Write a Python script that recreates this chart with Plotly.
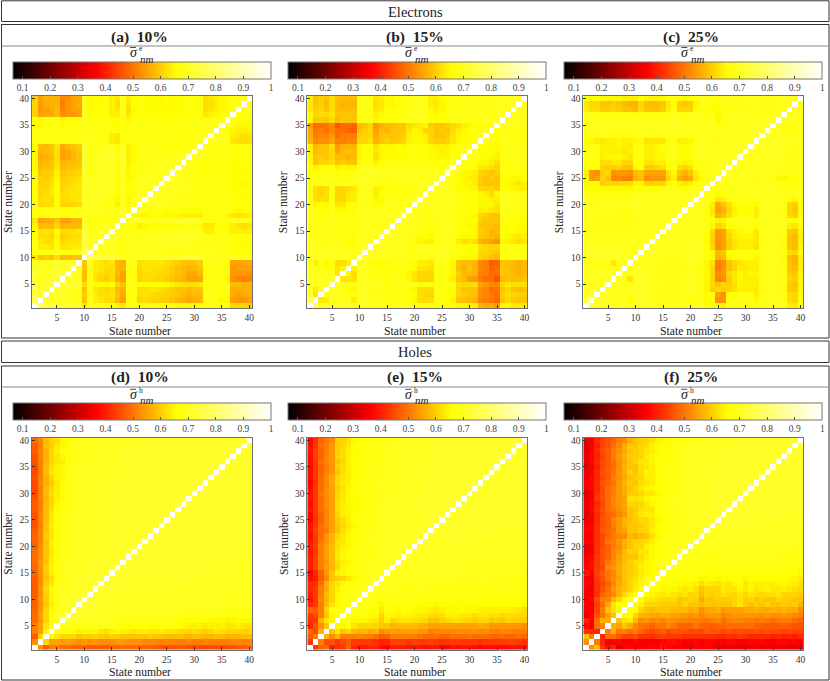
import plotly.graph_objects as go

W, H = 830, 681
FONT = "Liberation Serif"

# lower triangle of each (symmetric) overlap matrix, in percent
# one row per state m = 2..40, holding n = 1..m-1, diagonal is 100
electrons_10 = [
    [78],
    [76,71],
    [75,70,72],
    [75,71,72,73],
    [74,70,71,72,75],
    [74,71,70,71,73, 72],
    [73,70,71,70,73, 71,72],
    [71,69,70,70,74, 71,71,72],
    [64,60,61,60,63, 59,59,60,60],
    [70,69,69,69,70, 69,69,69,70,78],
    [69,65,65,64,67, 64,64,65,65,76, 70],
    [69,64,63,63,67, 62,63,64,64,75, 70,71],
    [68,63,63,62,66, 61,62,63,63,75, 70,70,71],
    [68,63,64,63,67, 63,63,63,64,75, 70,70,71,71],
    [66,59,60,59,62, 58,59,59,59,73, 69,69,70,70,70],
    [64,56,57,58,60, 56,56,58,58,72, 68,68,69,69,69, 68],
    [69,68,69,69,69, 68,68,69,69,70, 70,70,70,70,69, 68,70],
    [68,68,68,69,69, 68,68,68,69,70, 70,70,70,70,69, 68,71,67],
    [67,62,63,63,67, 62,62,62,63,71, 70,70,70,69,68, 65,71,66,69],
    [68,63,64,63,67, 63,63,64,64,72, 70,70,70,70,69, 66,71,66,69,70],
    [68,62,63,64,67, 63,63,64,64,72, 70,70,71,70,70, 67,71,67,68,70, 71],
    [67,62,62,64,67, 62,63,63,64,72, 70,70,71,70,70, 68,71,67,69,70, 70,71],
    [67,61,62,63,67, 62,62,63,64,72, 70,70,71,71,70, 68,71,67,69,70, 70,70,71],
    [67,61,61,62,66, 61,62,62,63,72, 70,70,71,71,71, 68,71,66,68,70, 70,70,70,71],
    [67,60,61,61,65, 60,61,61,62,72, 69,70,71,71,71, 68,72,66,68,69, 70,70,70,70,71],
    [66,59,60,60,64, 59,60,60,61,73, 69,70,71,72,71, 68,72,66,68,69, 69,70,70,70,70, 71],
    [66,58,59,60,63, 58,59,59,60,74, 69,70,71,72,71, 69,72,65,67,69, 69,69,70,70,70, 70,71],
    [66,57,58,59,63, 56,57,58,60,74, 69,70,71,72,71, 69,73,65,67,69, 69,69,70,70,69, 69,70,70],
    [66,58,59,60,63, 56,57,59,60,74, 69,69,70,71,71, 69,72,65,67,68, 69,69,69,69,69, 69,69,69,70],
    [67,59,59,60,64, 57,59,60,61,73, 69,69,70,70,70, 67,71,65,67,68, 69,69,69,68,68, 68,68,68,69,70],
    [69,69,69,69,69, 68,68,68,69,70, 70,70,69,69,65, 64,68,69,69,69, 69,69,69,69,69, 68,68,68,69,69, 69],
    [69,69,69,69,69, 68,69,69,69,70, 70,70,69,69,65, 64,68,69,69,69, 69,69,69,69,68, 68,68,68,68,69, 69,70],
    [69,69,69,69,69, 69,69,68,69,70, 69,69,69,69,68, 67,69,69,69,69, 69,69,69,69,69, 69,69,68,68,69, 69,69,70],
    [68,66,68,68,69, 67,68,69,69,70, 69,69,69,69,68, 67,69,68,69,69, 69,69,69,69,69, 68,68,69,69,69, 69,69,70,70],
    [69,67,68,69,69, 66,68,68,68,70, 69,69,69,69,67, 67,69,66,68,69, 69,69,69,68,68, 68,68,68,69,69, 69,69,69,69,70],
    [62,56,57,57,59, 54,55,55,56,71, 67,67,68,68,65, 65,70,64,67,68, 68,67,67,67,67, 67,67,67,67,68, 68,64,65,66,67, 68],
    [62,55,56,57,59, 53,55,56,56,71, 67,67,68,68,65, 64,70,63,66,68, 68,67,67,67,67, 67,67,67,68,68, 68,63,64,65,66, 67,69],
    [62,55,57,58,58, 52,55,56,57,71, 67,67,67,68,65, 63,70,64,67,68, 67,67,67,66,67, 67,67,68,68,68, 68,63,63,65,66, 67,68,69],
    [61,56,58,58,58, 53,54,56,57,70, 67,67,67,68,65, 64,70,65,67,68, 68,67,67,66,67, 67,67,67,68,68, 68,63,64,65,66, 67,69,69,70],
]

electrons_15 = [
    [78],
    [72,64],
    [72,65,70],
    [73,70,71,71],
    [72,70,70,70,71],
    [72,69,70,69,70, 64],
    [71,70,69,67,68, 64,66],
    [71,65,69,66,69, 63,63,65],
    [72,71,71,71,71, 71,71,71,70],
    [71,71,71,71,71, 70,70,70,70,71],
    [70,70,70,69,70, 70,69,69,69,71, 70],
    [70,70,69,70,70, 70,69,67,67,71, 70,70],
    [70,70,69,69,70, 69,69,68,68,71, 70,70,70],
    [70,69,69,69,69, 68,68,68,68,71, 70,70,70,70],
    [70,69,69,69,69, 69,69,69,69,70, 70,70,69,69,70],
    [70,69,69,69,70, 69,69,69,69,70, 70,70,70,70,70, 70],
    [70,69,69,69,70, 68,69,69,69,70, 70,70,70,70,70, 70,70],
    [71,69,68,67,70, 66,66,68,68,71, 70,70,69,70,70, 70,70,70],
    [70,66,67,66,69, 64,64,67,68,70, 69,69,67,68,70, 70,70,70,69],
    [69,63,63,63,68, 62,62,64,65,70, 70,70,66,67,69, 69,69,69,70,70],
    [69,63,62,63,68, 62,62,64,65,70, 70,70,65,67,69, 69,69,69,69,70, 70],
    [69,63,62,63,68, 62,62,63,64,69, 70,70,65,66,68, 68,68,69,69,69, 70,70],
    [68,69,69,69,70, 68,69,69,69,70, 70,70,69,69,69, 69,70,70,70,70, 70,70,70],
    [68,69,69,69,69, 69,69,69,70,71, 71,70,70,70,70, 70,70,70,70,70, 70,70,70,71],
    [68,67,68,68,68, 67,68,68,69,70, 71,71,70,70,70, 70,70,70,70,70, 70,70,70,70,71],
    [67,66,67,67,68, 65,66,66,66,69, 70,70,69,69,70, 70,70,70,70,70, 70,70,69,69,69, 70],
    [66,60,62,62,63, 60,61,60,60,67, 68,68,65,67,68, 68,68,68,68,69, 69,69,67,67,67, 68,70],
    [66,60,61,60,62, 59,59,58,59,66, 68,67,63,66,67, 67,68,67,68,68, 68,68,67,66,66, 66,68,69],
    [65,59,60,60,62, 56,59,60,59,66, 67,67,64,66,67, 66,67,67,68,68, 68,68,66,66,65, 66,67,68,69],
    [65,58,60,60,63, 55,58,58,58,66, 67,67,63,66,66, 66,67,66,68,68, 68,67,66,65,65, 65,67,68,68,69],
    [58,53,54,54,56, 52,52,53,53,62, 62,63,58,60,61, 60,61,62,65,66, 66,66,62,61,61, 62,64,66,67,67, 68],
    [57,52,53,53,55, 50,52,52,52,61, 62,62,57,60,60, 60,60,61,65,66, 66,65,62,60,60, 61,64,66,67,67, 68,69],
    [57,51,52,50,53, 50,50,49,48,60, 61,62,56,59,58, 60,60,60,64,66, 65,62,62,60,61, 60,63,65,66,67, 68,68,69],
    [55,50,50,51,53, 47,50,50,49,59, 60,62,55,58,59, 59,60,60,63,64, 65,66,61,60,60, 61,62,63,65,66, 67,67,67,68],
    [66,60,61,60,62, 59,60,60,60,69, 69,69,66,67,68, 68,69,69,70,70, 70,70,68,68,67, 68,69,69,69,69, 69,70,70,69,70],
    [66,62,63,62,64, 60,60,60,60,69, 69,69,65,66,67, 68,68,69,70,70, 70,70,67,66,67, 68,69,69,69,69, 69,70,70,69,70, 70],
    [64,61,62,60,63, 59,59,59,59,69, 69,69,64,65,67, 67,68,69,69,70, 70,69,66,65,66, 68,69,69,69,69, 69,69,69,69,70, 70,70],
    [64,60,61,59,63, 59,58,58,58,69, 69,69,63,64,66, 66,67,68,69,69, 70,69,65,64,66, 67,69,69,69,69, 69,69,69,69,70, 70,70,70],
    [65,60,61,60,63, 60,59,59,59,69, 69,69,64,65,66, 66,68,68,69,70, 70,69,65,65,67, 68,69,69,69,70, 69,69,69,69,70, 70,70,70,70],
]

electrons_25 = [
    [76],
    [72,71],
    [71,71,71],
    [71,70,70,71],
    [71,71,70,71,70],
    [71,71,70,70,70, 70],
    [71,70,70,70,69, 70,70],
    [71,67,70,70,70, 64,69,68],
    [72,72,72,72,72, 71,71,71,70],
    [72,72,72,72,72, 71,71,71,70,71],
    [71,71,70,71,71, 71,70,70,70,70, 71],
    [71,70,70,70,70, 70,70,70,70,70, 71,71],
    [70,70,70,70,70, 70,70,70,70,70, 70,70,71],
    [70,69,69,69,70, 69,69,69,70,70, 70,70,70,70],
    [70,70,69,69,70, 69,69,69,69,70, 70,70,70,70,71],
    [70,70,69,69,70, 69,69,69,69,69, 70,70,70,70,70, 71],
    [70,69,70,69,70, 69,69,69,69,70, 70,70,70,70,70, 70,71],
    [70,70,70,70,70, 70,70,69,70,70, 71,70,70,70,70, 70,70,71],
    [71,68,70,71,71, 70,70,70,71,71, 71,70,70,70,70, 70,70,70,71],
    [71,69,70,70,71, 70,70,70,71,72, 72,71,71,71,70, 70,70,70,70,71],
    [70,70,69,69,69, 68,69,69,69,70, 70,70,70,70,70, 70,70,70,70,70, 71],
    [67,67,67,66,66, 66,66,66,66,68, 68,68,67,67,68, 69,69,68,68,69, 70,70],
    [66,68,67,61,62, 62,62,62,63,66, 66,62,61,62,62, 66,68,65,64,65, 68,69,70],
    [66,55,56,62,60, 53,54,52,52,58, 59,54,55,55,55, 62,65,58,56,57, 64,67,68,69],
    [65,55,54,61,62, 54,55,55,54,59, 60,56,56,56,56, 63,66,60,58,60, 65,68,69,69,71],
    [68,68,67,62,61, 61,62,60,60,66, 67,61,61,62,63, 67,69,63,62,63, 68,69,69,70,70, 71],
    [68,69,67,63,63, 64,64,62,62,68, 68,64,64,65,65, 68,69,66,65,66, 69,70,70,70,70, 70,71],
    [70,70,69,65,66, 66,66,65,64,68, 69,65,65,66,66, 69,70,68,67,68, 70,70,70,70,70, 70,70,71],
    [69,69,68,65,65, 65,65,64,65,68, 68,65,65,66,67, 69,70,68,67,68, 70,70,70,70,70, 70,70,70,71],
    [69,69,68,65,65, 65,66,65,65,68, 68,65,65,66,67, 69,70,67,67,67, 70,70,70,70,70, 70,70,70,70,71],
    [68,66,65,64,65, 65,66,65,65,66, 67,63,64,64,64, 67,69,65,65,66, 70,70,70,70,69, 70,70,70,70,70, 71],
    [69,69,69,69,70, 68,69,69,69,70, 70,69,69,70,70, 70,70,70,70,70, 70,70,70,70,70, 70,70,70,70,71, 70,71],
    [70,70,70,70,70, 70,70,70,70,70, 70,70,70,70,70, 70,70,70,70,70, 70,70,70,70,70, 70,70,70,70,71, 71,71,71],
    [70,70,70,70,70, 70,70,70,70,70, 70,70,70,70,70, 70,71,70,70,70, 70,70,70,70,68, 70,70,70,70,71, 71,71,71,71],
    [70,70,70,70,70, 70,70,70,70,70, 70,70,70,70,70, 70,71,70,70,70, 70,70,70,70,66, 70,70,70,70,71, 71,71,71,71,71],
    [70,70,70,68,69, 69,69,69,68,67, 69,68,68,68,69, 70,70,68,69,70, 70,70,69,69,66, 69,70,70,70,70, 70,70,69,69,69, 71],
    [65,63,63,61,61, 62,61,60,60,59, 63,60,60,60,61, 65,68,62,62,62, 67,69,69,68,67, 69,69,69,69,69, 70,70,69,69,69, 70,70],
    [64,62,62,60,60, 61,60,59,58,58, 62,59,59,59,60, 64,67,61,60,61, 66,69,69,67,67, 69,69,69,69,69, 70,70,69,69,69, 70,70,69],
    [68,67,67,66,66, 66,66,65,65,65, 67,66,65,65,66, 68,69,67,66,67, 69,70,70,69,69, 70,70,70,70,70, 70,70,70,70,70, 70,70,69,69],
]

holes_10 = [
    [54],
    [48,62],
    [52,56,66],
    [52,56,64,68],
    [50,55,62,68,70],
    [50,56,62,67,70, 71],
    [49,55,62,66,69, 71,72],
    [49,54,60,65,69, 71,72,73],
    [49,55,61,66,69, 71,72,72,73],
    [48,54,61,66,70, 71,71,72,72,73],
    [48,55,62,66,69, 71,71,71,72,72, 73],
    [48,54,61,64,69, 70,71,71,72,72, 72,73],
    [48,54,60,63,69, 70,70,71,71,72, 72,72,73],
    [49,54,61,65,69, 70,71,71,71,71, 72,72,72,73],
    [49,55,61,66,69, 70,70,71,71,71, 72,72,72,72,73],
    [50,55,60,65,68, 69,70,70,71,71, 71,72,72,72,72, 73],
    [50,54,60,65,67, 69,70,71,71,71, 71,71,72,72,72, 72,73],
    [50,54,60,64,67, 69,70,70,71,71, 71,71,72,72,72, 72,72,73],
    [49,54,60,65,68, 70,70,71,71,71, 71,71,71,72,72, 72,72,72,73],
    [49,53,60,65,68, 70,70,71,71,71, 71,72,72,71,72, 72,72,72,72,73],
    [49,53,61,64,67, 69,70,70,71,71, 71,71,71,72,72, 72,72,72,72,72, 73],
    [48,53,60,64,67, 69,70,71,71,71, 71,71,72,72,72, 72,72,72,72,72, 72,73],
    [47,52,60,65,68, 69,70,70,71,71, 71,71,71,72,72, 72,72,72,72,72, 72,72,73],
    [47,53,59,64,68, 69,70,71,71,71, 72,71,71,72,72, 72,72,72,72,72, 72,72,72,73],
    [47,53,59,64,68, 69,70,70,71,71, 71,72,72,72,72, 72,72,72,72,72, 72,72,72,72,73],
    [48,52,59,63,67, 68,70,70,71,71, 71,71,72,72,72, 72,72,72,72,72, 72,72,72,72,72, 73],
    [48,52,59,62,66, 68,69,70,70,71, 71,71,71,72,72, 72,72,72,72,72, 72,72,72,72,72, 72,73],
    [47,53,58,62,65, 67,69,70,70,71, 71,71,72,72,71, 72,72,72,72,72, 72,72,72,72,72, 72,72,73],
    [46,52,59,63,65, 67,69,70,71,71, 71,71,71,72,72, 72,72,72,72,72, 72,72,72,72,72, 72,72,72,73],
    [46,52,59,62,65, 67,69,70,70,71, 71,71,71,71,72, 72,72,72,72,72, 72,72,72,72,72, 72,72,72,72,73],
    [46,53,58,61,64, 67,69,70,70,71, 71,71,71,71,72, 71,72,72,72,72, 72,72,72,72,72, 72,72,72,72,72, 73],
    [47,52,58,62,65, 66,69,70,70,71, 71,71,71,72,72, 72,72,72,72,72, 72,72,72,72,72, 72,72,72,72,72, 72,73],
    [46,52,59,64,65, 66,69,70,70,70, 71,71,71,71,72, 71,72,72,72,72, 72,72,72,72,72, 72,72,72,72,72, 72,72,73],
    [46,52,59,63,65, 66,68,70,70,71, 71,71,71,71,71, 72,72,72,72,72, 72,72,72,72,72, 72,72,72,72,72, 72,72,72,73],
    [47,52,58,62,64, 65,68,69,70,70, 71,71,71,71,71, 71,72,72,72,72, 72,72,72,72,72, 72,72,72,72,72, 72,72,72,72,73],
    [47,53,58,62,64, 66,68,69,70,70, 70,71,71,71,71, 71,72,72,72,72, 72,72,72,72,72, 72,72,72,72,72, 72,72,72,72,72, 73],
    [48,53,58,62,65, 67,68,69,70,70, 71,71,71,71,71, 71,71,72,72,72, 72,72,72,72,72, 72,72,72,72,72, 72,72,72,72,72, 72,73],
    [48,52,59,61,64, 66,67,69,70,70, 71,71,71,71,71, 71,71,71,72,72, 72,72,72,72,72, 72,72,72,72,72, 72,72,72,72,72, 72,72,73],
    [50,53,59,62,63, 66,67,69,70,70, 70,70,70,71,71, 71,71,71,71,72, 72,72,72,72,72, 72,72,72,72,72, 72,72,72,72,72, 72,72,72,73],
]

holes_15 = [
    [44],
    [48,52],
    [50,46,58],
    [42,47,54,60],
    [43,44,58,64,66],
    [44,46,52,60,66, 68],
    [49,48,52,62,68, 68,69],
    [42,44,52,59,64, 66,68,69],
    [40,44,53,58,62, 66,67,68,70],
    [41,44,52,59,62, 66,67,69,69,70],
    [42,44,52,57,62, 65,67,68,69,70, 70],
    [42,43,50,58,62, 64,66,68,68,69, 70,71],
    [39,41,48,53,60, 61,62,64,66,68, 69,70,71],
    [38,42,49,55,60, 65,66,68,68,69, 70,70,70,71],
    [41,45,52,56,58, 62,66,67,68,69, 69,70,70,70,71],
    [41,45,52,55,59, 63,65,66,68,69, 70,70,70,70,70, 71],
    [41,45,52,56,59, 64,66,68,68,69, 69,68,70,70,70, 71,72],
    [40,44,52,56,59, 64,66,67,68,68, 69,69,70,70,70, 71,71,72],
    [41,45,52,56,59, 63,65,66,68,69, 69,70,70,70,71, 71,71,71,72],
    [40,44,51,55,58, 63,64,66,68,68, 69,70,70,70,70, 71,71,71,71,72],
    [39,44,50,55,58, 62,64,66,67,68, 69,69,70,70,71, 71,71,71,71,72, 72],
    [40,45,50,52,56, 60,63,65,67,68, 69,69,70,70,70, 71,71,71,71,71, 72,72],
    [40,44,50,53,56, 60,62,64,66,68, 68,69,70,70,70, 71,71,71,71,71, 71,72,72],
    [38,43,49,53,56, 61,63,65,67,68, 69,69,70,70,71, 71,71,71,71,71, 71,72,72,73],
    [38,44,49,53,56, 62,65,66,67,68, 69,69,69,70,70, 71,71,71,71,71, 72,72,72,72,73],
    [40,44,50,53,56, 63,65,66,67,68, 69,69,70,70,70, 71,71,71,71,72, 72,72,72,72,72, 73],
    [39,44,50,54,56, 63,65,66,67,67, 69,69,69,70,70, 70,71,71,71,71, 72,72,72,72,72, 72,73],
    [40,44,50,54,56, 62,64,66,67,68, 68,69,69,70,70, 71,71,71,71,71, 72,72,72,72,72, 72,72,73],
    [40,44,51,54,56, 62,64,66,68,68, 68,69,69,70,70, 70,71,71,71,71, 71,72,72,72,72, 72,72,72,73],
    [39,44,50,54,56, 61,63,66,67,68, 69,69,69,70,70, 70,71,71,71,71, 71,71,72,72,72, 72,72,72,72,73],
    [38,43,50,53,57, 62,64,65,67,68, 69,69,70,70,70, 70,71,71,71,71, 71,71,72,72,72, 72,72,72,72,72, 73],
    [39,44,50,54,57, 62,64,65,67,68, 68,69,69,70,70, 71,71,71,71,71, 71,72,72,72,72, 72,72,72,72,72, 72,73],
    [39,44,49,53,55, 60,63,65,67,68, 69,69,69,70,70, 70,71,71,71,71, 71,71,72,72,72, 72,72,72,72,72, 72,72,73],
    [39,44,49,52,55, 61,63,65,67,68, 68,69,69,70,70, 70,70,71,71,71, 71,71,71,72,72, 72,72,72,72,72, 72,72,72,73],
    [39,44,50,53,55, 60,62,65,67,68, 68,69,69,70,70, 70,71,71,71,71, 71,71,71,72,72, 72,72,72,72,72, 72,72,72,72,73],
    [39,45,49,53,55, 62,63,65,67,68, 69,69,69,69,70, 70,71,71,71,71, 71,71,72,72,72, 72,72,72,72,72, 72,72,72,72,72, 73],
    [40,45,49,52,55, 61,63,65,67,67, 68,69,69,69,70, 70,70,71,71,71, 71,71,71,72,72, 72,72,72,72,72, 72,72,72,72,72, 72,73],
    [39,44,50,52,55, 61,62,64,67,68, 68,68,69,69,70, 70,70,71,71,71, 71,71,71,72,72, 72,72,72,72,72, 72,72,72,72,72, 72,72,73],
    [39,43,49,52,54, 61,62,63,66,68, 68,68,69,69,69, 70,70,70,71,71, 71,71,71,71,72, 72,72,72,72,72, 72,72,72,72,72, 72,72,72,73],
]

holes_25 = [
    [54],
    [60,52],
    [43,42,42],
    [39,37,50,52],
    [41,38,50,58,58],
    [34,38,47,51,56, 60],
    [37,37,45,52,60, 63,66],
    [38,37,45,50,57, 64,68,68],
    [37,38,46,52,53, 59,62,67,68],
    [36,37,43,49,51, 54,58,62,65,67],
    [37,36,43,47,50, 55,58,60,62,65, 67],
    [38,37,43,46,49, 53,57,59,62,64, 66,67],
    [37,37,44,47,51, 54,56,60,62,63, 65,67,68],
    [40,38,45,48,51, 53,57,60,61,62, 64,66,67,69],
    [38,39,44,46,53, 55,57,60,61,62, 65,66,67,68,69],
    [37,39,44,47,51, 54,56,59,61,63, 64,66,67,68,68, 69],
    [37,38,44,47,49, 53,56,59,60,60, 63,65,66,68,68, 69,70],
    [36,37,43,47,49, 53,55,59,62,61, 64,64,66,67,68, 69,69,70],
    [36,37,43,46,49, 52,54,57,60,62, 62,65,66,68,69, 69,69,70,70],
    [38,38,43,46,51, 52,55,58,60,61, 62,63,65,67,69, 69,70,70,70,71],
    [37,37,43,46,49, 52,53,54,59,57, 59,60,63,66,68, 68,69,69,70,70, 71],
    [38,38,43,48,49, 51,55,56,60,60, 62,62,65,66,67, 68,69,69,70,70, 70,71],
    [37,38,43,47,48, 52,55,57,60,60, 61,62,64,67,68, 68,69,69,70,70, 70,71,71],
    [36,37,42,47,49, 53,55,58,60,61, 62,62,64,66,67, 68,69,69,70,70, 71,71,71,72],
    [34,37,42,46,49, 50,53,55,60,61, 64,65,65,67,68, 69,70,70,70,71, 71,71,72,72,72],
    [35,38,43,47,50, 52,54,56,60,61, 63,64,64,67,68, 68,69,70,70,71, 71,71,71,72,72, 72],
    [36,38,42,46,50, 53,55,56,62,62, 62,64,66,67,68, 69,69,70,70,70, 71,71,71,72,72, 72,73],
    [34,37,44,47,50, 53,55,56,64,63, 64,66,67,67,68, 69,70,70,70,70, 71,71,71,71,72, 72,72,73],
    [34,37,43,46,50, 52,55,57,61,61, 62,64,64,66,67, 68,69,70,70,70, 71,71,71,71,72, 72,72,72,73],
    [36,38,42,46,50, 52,55,57,60,62, 64,66,66,67,68, 68,69,70,70,70, 71,71,71,72,72, 72,72,72,72,73],
    [37,38,42,47,49, 51,55,58,61,60, 63,64,65,67,68, 69,69,70,70,71, 71,71,71,71,72, 72,72,72,72,72, 73],
    [35,38,42,46,48, 52,54,57,60,61, 62,65,65,67,68, 68,69,70,70,70, 71,71,71,71,72, 72,72,72,72,72, 72,73],
    [36,37,42,47,48, 51,55,57,62,60, 63,66,65,67,68, 68,69,70,70,71, 71,71,71,72,72, 72,72,72,72,72, 72,72,73],
    [35,37,41,46,48, 50,54,58,60,60, 63,64,65,67,68, 69,69,70,70,70, 71,71,71,71,71, 72,72,72,72,72, 72,72,72,73],
    [36,38,42,46,48, 51,54,57,60,62, 64,64,66,67,68, 68,69,70,70,70, 71,71,71,71,72, 72,72,72,72,72, 72,72,72,72,73],
    [35,38,41,45,48, 52,55,58,61,61, 62,65,66,67,68, 68,69,69,70,70, 71,71,71,71,71, 72,72,72,72,72, 72,72,72,72,72, 73],
    [34,37,42,46,48, 52,54,57,60,61, 62,64,65,66,67, 68,69,69,70,70, 70,71,71,71,71, 72,72,72,72,72, 72,72,72,72,72, 72,73],
    [35,38,41,45,47, 50,53,57,61,60, 62,63,65,66,67, 68,68,69,69,70, 70,71,71,71,71, 71,72,72,72,72, 72,72,72,72,72, 72,72,73],
    [36,37,42,45,47, 49,52,54,58,60, 61,62,63,65,66, 67,68,68,69,69, 70,70,70,71,71, 71,71,72,72,72, 72,72,72,72,72, 72,72,72,73],
]

states = list(range(1, 41))
ticks = list(range(5, 41, 5))
bar_ticks = [0.1, 0.2, 0.3, 0.4, 0.5, 0.6, 0.7, 0.8, 0.9, 1]
bar_labels = ["0.1", "0.2", "0.3", "0.4", "0.5", "0.6", "0.7", "0.8", "0.9", "1"]
# stops: red near 0.37, yellow near 0.66
hot = [[0, "#000000"], [0.323, "#ff0000"], [0.633, "#ffff00"], [1, "#ffffff"]]
# the readings above were taken against a slightly later yellow
READ_SHIFT = 0.01

panels = [
    ("(a)", "10%", "e", electrons_10, 32, 0),
    ("(b)", "15%", "e", electrons_15, 307.3, 0),
    ("(c)", "25%", "e", electrons_25, 583.3, 0),
    ("(d)", "10%", "h", holes_10, 32, 1),
    ("(e)", "15%", "h", holes_15, 307.3, 1),
    ("(f)", "25%", "h", holes_25, 583.3, 1),
]


def full_matrix(rows):
    bad = [i + 2 for i, r in enumerate(rows) if len(r) != i + 1]
    if bad:
        raise ValueError("bad row lengths for states %s" % bad)
    z = [[1.0] * 40 for _ in range(40)]
    for i, r in enumerate(rows):
        for j, v in enumerate(r):
            z[i + 1][j] = v / 100 - READ_SHIFT
            z[j][i + 1] = v / 100 - READ_SHIFT
    return z


def px(x):
    return x / W


def py(y):
    return 1 - y / H


def label(x, y, text, size, angle=0, color="#222222"):
    fig.add_annotation(x=px(x), y=py(y), xref="paper", yref="paper", text=text,
                       showarrow=False, textangle=angle, xanchor="center", yanchor="middle",
                       font=dict(family=FONT, size=size, color=color))


fig = go.Figure()

for idx, (tag, pct, sup, rows, left, row) in enumerate(panels):
    dy = 341.8 * row
    num = idx + 1
    fig.add_trace(go.Heatmap(
        x=states, y=states, z=full_matrix(rows),
        xaxis="x%d" % num, yaxis="y%d" % num,
        zmin=0.065, zmax=1, colorscale=hot,
        colorbar=dict(
            orientation="h", lenmode="pixels", len=258, thicknessmode="pixels", thickness=16.5,
            x=px(left - 19 + 129), xanchor="center", y=py(61.5 + dy), yanchor="top",
            xpad=0, ypad=0, outlinecolor="#777777", outlinewidth=1,
            tickmode="array", tickvals=bar_ticks, ticktext=bar_labels,
            ticks="inside", ticklen=3, tickcolor="#555555", tickwidth=1,
            tickfont=dict(family=FONT, size=9.5, color="#444444"),
        ),
    ))
    axis = dict(range=[0.5, 40.5], tickmode="array", tickvals=ticks, ticks="inside", ticklen=3,
                tickcolor="#333333", showgrid=False, zeroline=False, showline=True, mirror=True,
                linecolor="#707070", linewidth=1,
                tickfont=dict(family=FONT, size=9.5, color="#333333"))
    fig.update_layout({
        "xaxis%d" % num: dict(axis, domain=[px(left), px(left + 220)], anchor="y%d" % num,
                              ticklabelstandoff=1),
        "yaxis%d" % num: dict(axis, domain=[py(308 + dy), py(96 + dy)], anchor="x%d" % num),
    })

    cx = left + 107.5
    label(cx, 37 + 340.3 * row, "<b>%s\u00a0\u00a0%s</b>" % (tag, pct), 15.5)
    label(cx - 6, 52.5 + dy, "<i>\u03c3</i>", 14)
    fig.add_shape(type="line", xref="paper", yref="paper", x0=px(cx - 9.5), x1=px(cx - 3.5),
                  y0=py(47.5 + dy), y1=py(47.5 + dy), line=dict(color="#222222", width=0.8))
    label(cx + 7, 58.5 + dy, "<i>nm</i>", 11)
    label(cx + 1, 48.5 + dy, sup, 7.5)
    label(cx, 331 + 341 * row, "State number", 11.7)
    label(left - 23, 202 + dy, "State number", 11.7, angle=-90)

label(415, 12, "Electrons", 14.5)
label(415, 352, "Holes", 14.5)

frames = [(1.5, 0.8, 829, 21.5), (1.5, 24.5, 829, 338), (1.5, 341, 829, 362.5), (1.5, 366, 829, 680)]
for x0, y0, x1, y1 in frames:
    fig.add_shape(type="rect", xref="paper", yref="paper", x0=px(x0), x1=px(x1), y0=py(y0), y1=py(y1),
                  line=dict(color="#333333", width=1))
for y in (46, 387):
    fig.add_shape(type="line", xref="paper", yref="paper", x0=px(1.5), x1=px(829), y0=py(y), y1=py(y),
                  line=dict(color="#888888", width=1.2))

# autoexpand off: colour bars must not push the margins and rescale the paper
fig.update_layout(width=W, height=H, margin=dict(l=0, r=0, t=0, b=0, autoexpand=False),
                  paper_bgcolor="white", plot_bgcolor="white", showlegend=False)

# pin the plot to the page corner so paper coordinates equal window pixels
pin = ("document.body.style.margin='0';"
       "var g=document.getElementById('{plot_id}');"
       "g.parentElement.style.position='absolute';"
       "g.parentElement.style.top='0';g.parentElement.style.left='0';")
fig.write_html("out.html", post_script=pin, config={"displayModeBar": False})
